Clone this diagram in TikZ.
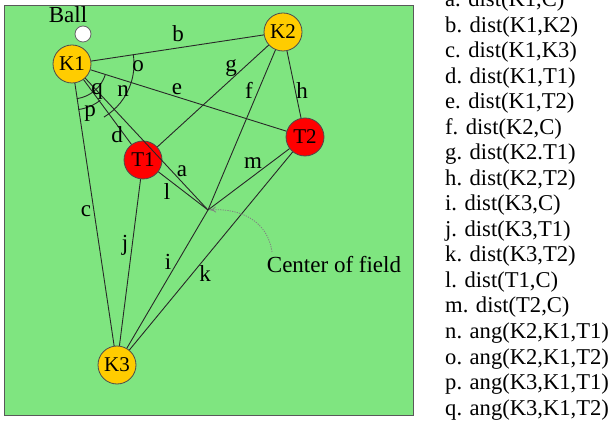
\documentclass[tikz,border=0pt]{standalone}
\usepackage{fontspec}
\setmainfont{Liberation Serif}
\usetikzlibrary{arrows.meta}
\definecolor{fieldgreen}{RGB}{127,229,128}
\definecolor{kgold}{RGB}{255,204,0}
\definecolor{tred}{RGB}{255,0,0}
\definecolor{edgegray}{RGB}{40,40,40}
\tikzset{
  player/.style={circle,draw=black!70,line width=0.8pt,minimum size=38pt,inner sep=0pt,font=\fontsize{21}{21}\selectfont},
  keeper/.style={player,fill=kgold},
  taker/.style={player,fill=tred},
  conn/.style={draw=edgegray,line width=0.9pt},
  anglearc/.style={draw=edgegray,line width=0.9pt},
  lbl/.style={anchor=base,inner sep=0pt,font=\fontsize{23}{23}\selectfont},
  listitem/.style={anchor=base west,inner sep=0pt,font=\fontsize{22.6}{25}\selectfont},
  hint/.style={draw=gray,line width=0.8pt,dash pattern=on 1.2pt off 1.2pt,-{To[length=6pt,width=6pt]}}
}
\begin{document}
\begin{tikzpicture}[x=1pt,y=1pt]
\useasboundingbox (0,0) rectangle (610,-427);
% field
\draw[fill=fieldgreen,draw=black!65,line width=1pt] (4,-6) rectangle (413,-415);
% players
\node[keeper] (K1) at (72,-64) {K1};
\node[keeper] (K2) at (283,-32) {K2};
\node[keeper] (K3) at (117,-365) {K3};
\node[taker] (T1) at (143,-160) {T1};
\node[taker] (T2) at (305,-137) {T2};
\coordinate (C) at (208,-210);
\node[circle,draw=black!60,fill=white,line width=0.8pt,minimum size=16pt,inner sep=0pt] (ball) at (83,-34) {};
\node[lbl] (balltxt) at (68,-23) {Ball};
% connectors
\path[conn] (K1) -- (K2);
\path[conn] (K1) -- (K3);
\path[conn] (K1) -- (T1);
\path[conn] (K1) -- (T2);
\path[conn] (K1) -- (C);
\path[conn] (K2) -- (C);
\path[conn] (K2) -- (T1);
\path[conn] (K2) -- (T2);
\path[conn] (K3) -- (C);
\path[conn] (K3) -- (T1);
\path[conn] (K3) -- (T2);
\path[conn] (T1) -- (C);
\path[conn] (T2) -- (C);
% angle arcs at K1
\path[anglearc] ([shift={(-18:62pt)}]K1.center) arc[start angle=-18,end angle=9,radius=62pt];
\path[anglearc] ([shift={(-59:62pt)}]K1.center) arc[start angle=-59,end angle=-18,radius=62pt];
\path[anglearc] ([shift={(-82:46pt)}]K1.center) arc[start angle=-82,end angle=-52,radius=46pt];
\path[anglearc] ([shift={(-82:35pt)}]K1.center) arc[start angle=-82,end angle=-17,radius=35pt];
% edge labels
\node[lbl] (la) at (182,-177) {a};
\node[lbl] (lb) at (178,-41.7) {b};
\node[lbl] (lc) at (86,-216.7) {c};
\node[lbl] (ld) at (117,-143) {d};
\node[lbl] (le) at (177,-95) {e};
\node[lbl] (lf) at (249,-98.3) {f};
\node[lbl] (lg) at (231,-71.7) {g};
\node[lbl] (lh) at (302,-98.3) {h};
\node[lbl] (li) at (168,-270) {i};
\node[lbl] (lj) at (125,-250.5) {j};
\node[lbl] (lk) at (205,-281.7) {k};
\node[lbl] (ll) at (167,-200) {l};
\node[lbl] (lm) at (253,-168.3) {m};
\node[lbl] (ln) at (123,-96.7) {n};
\node[lbl] (lo) at (138,-71.7) {o};
\node[lbl] (lp) at (90,-117) {p};
\node[lbl] (lq) at (97,-94.5) {q};
% center of field
\node[lbl] (cf) at (334,-272.7) {Center of field};
\coordinate (cfs) at (272,-252);
\draw[hint,shorten >=2pt] (cfs) .. controls (268,-222) and (242,-208) .. (C);
% list
\node[listitem] (i1) at (445,-7) {a. dist(K1,C)};
\node[listitem] (i2) at (445,-32.5) {b. dist(K1,K2)};
\node[listitem] (i3) at (445,-58) {c. dist(K1,K3)};
\node[listitem] (i4) at (445,-83.5) {d. dist(K1,T1)};
\node[listitem] (i5) at (445,-109) {e. dist(K1,T2)};
\node[listitem] (i6) at (445,-134.5) {f. dist(K2,C)};
\node[listitem] (i7) at (445,-160) {g. dist(K2.T1)};
\node[listitem] (i8) at (445,-185.5) {h. dist(K2,T2)};
\node[listitem] (i9) at (445,-211) {i. dist(K3,C)};
\node[listitem] (i10) at (445,-236.5) {j. dist(K3,T1)};
\node[listitem] (i11) at (445,-262) {k. dist(K3,T2)};
\node[listitem] (i12) at (445,-287.5) {l. dist(T1,C)};
\node[listitem] (i13) at (445,-313) {m. dist(T2,C)};
\node[listitem] (i14) at (445,-338.5) {n. ang(K2,K1,T1)};
\node[listitem] (i15) at (445,-364) {o. ang(K2,K1,T2)};
\node[listitem] (i16) at (445,-389.5) {p. ang(K3,K1,T1)};
\node[listitem] (i17) at (445,-415) {q. ang(K3,K1,T2)};
\end{tikzpicture}
\end{document}
